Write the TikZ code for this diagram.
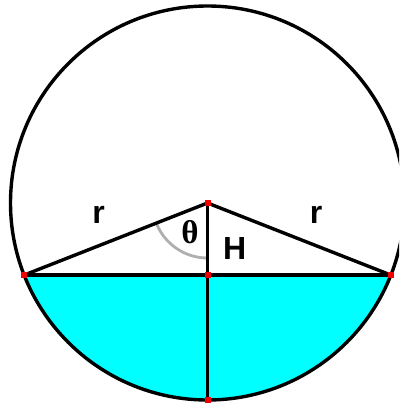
\documentclass[tikz,border=0pt]{standalone}
\usepackage{fontspec}
\setmainfont{Liberation Sans}
\newfontfamily\thetafont{Liberation Serif}
\usetikzlibrary{calc}
\definecolor{segcyan}{RGB}{0,255,255}
\definecolor{arcgray}{RGB}{175,175,175}
\definecolor{dotred}{RGB}{240,0,0}
\begin{document}
\begin{tikzpicture}[x=1pt,y=-1pt,
  edge/.style={line width=3.4pt},
  dot/.style={rectangle,fill=dotred,inner sep=0pt,minimum size=6pt},
  lbl/.style={inner sep=0pt,font=\bfseries\fontsize{32}{32}\selectfont}]
\useasboundingbox (0,0) rectangle (399,404);
\clip (0,0) rectangle (399,404);
\coordinate (O) at (207.5,203);
\coordinate (L) at (24.3,275);
\coordinate (R) at (390.7,275);
\coordinate (M) at (207.5,275);
\coordinate (B) at (207.5,399.5);
% cyan segment
\begin{scope}
  \clip (O) circle (197);
  \fill[segcyan] (0,275) rectangle (410,410);
\end{scope}
% gray angle arc
\draw[arcgray,line width=2.8pt] ($(O)+(158:55)$) arc (158:90:55);
% circle and lines
\draw[edge] (O) circle (197);
\draw[edge] (L) -- (R);
\draw[edge] (L) -- (O) -- (R);
\draw[edge] (O) -- (B);
% dots
\foreach \p in {O,L,R,M,B} \node[dot] (d\p) at (\p) {};
% labels
\node[lbl] (rl) at (98.5,214.5) {r};
\node[lbl] (rr) at (316,214.5) {r};
\node[lbl] (hl) at (234.7,248.3) {H};
\node[inner sep=0pt,font=\thetafont\bfseries\fontsize{33}{33}\selectfont] (tl) at (190,231.7) {θ};
\end{tikzpicture}
\end{document}
